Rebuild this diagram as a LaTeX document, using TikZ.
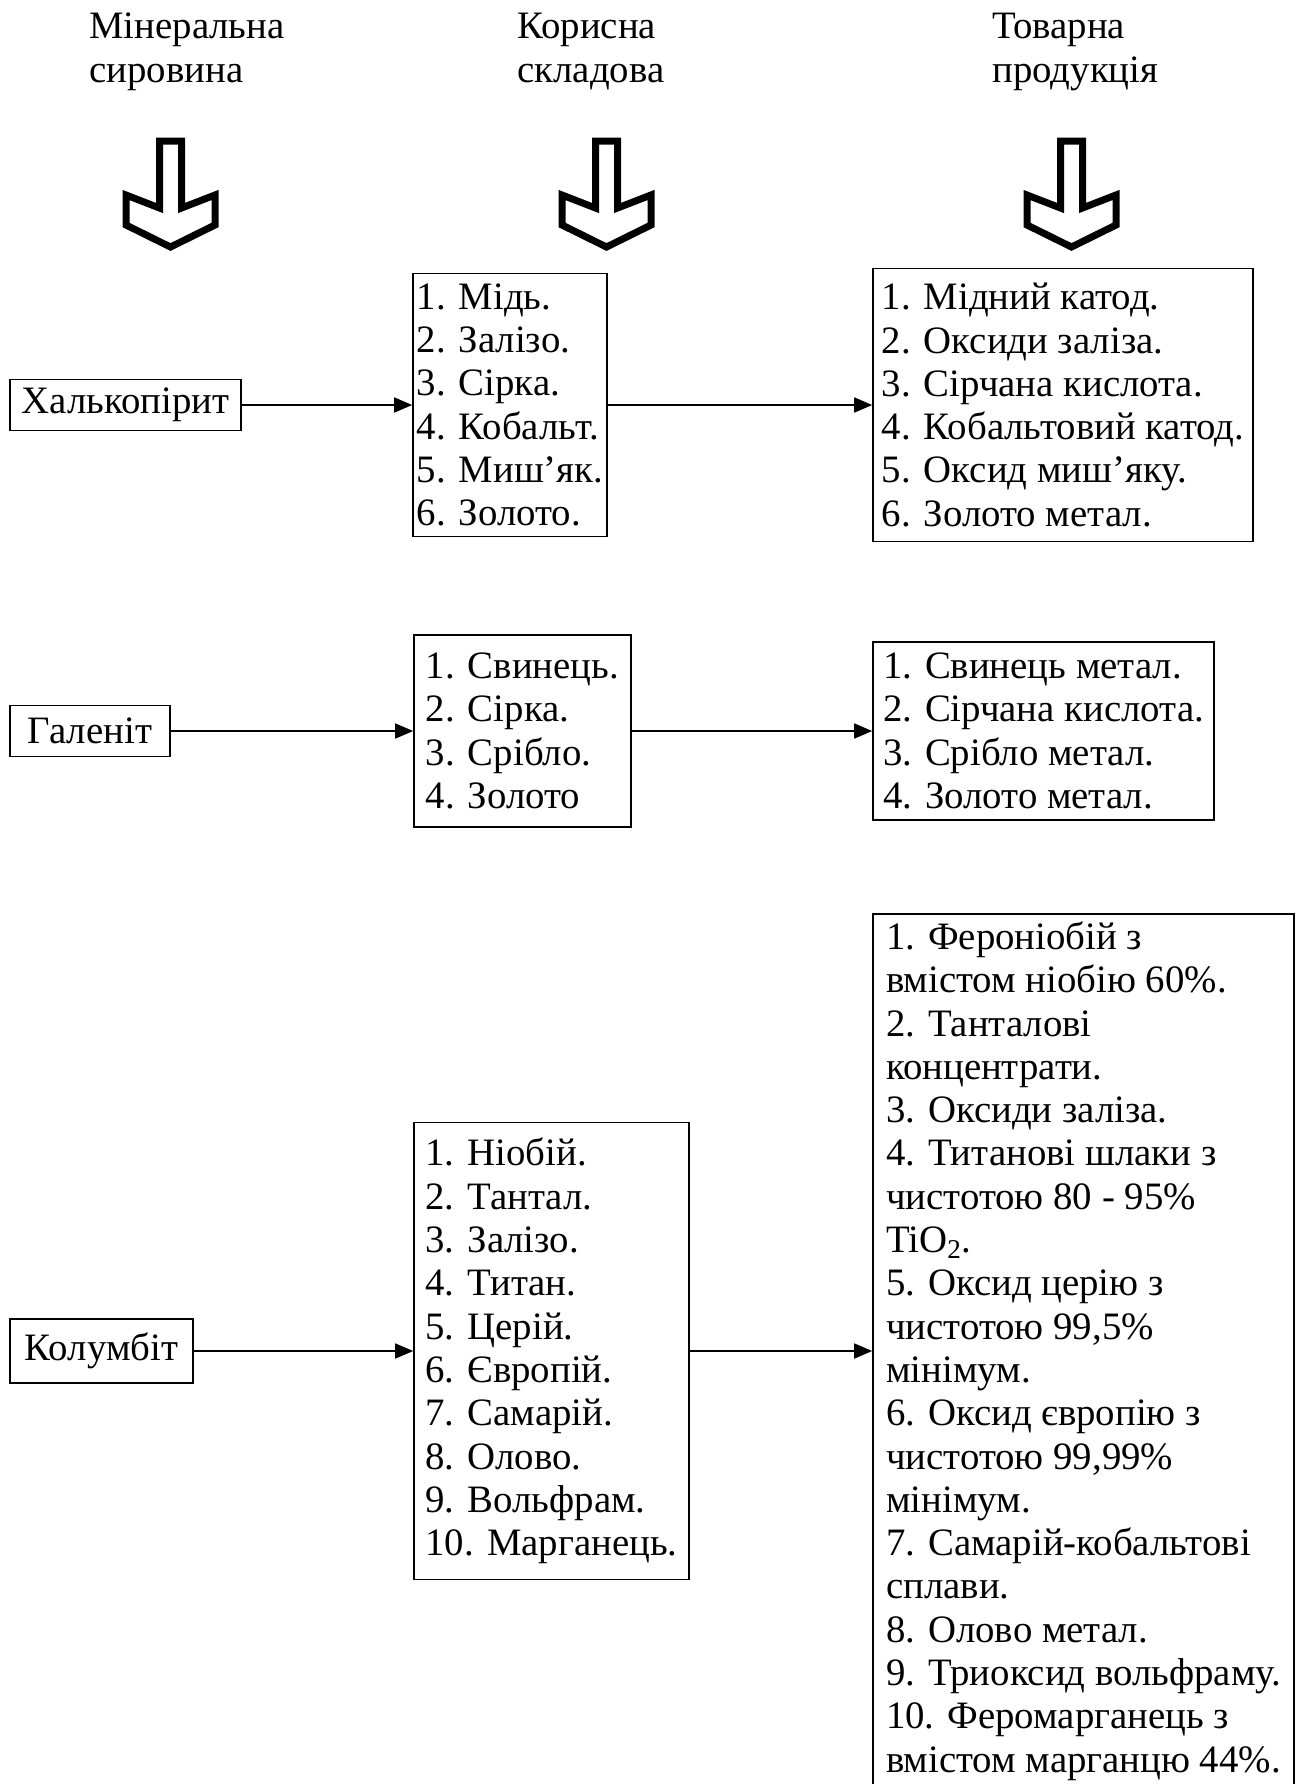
\documentclass[tikz,border=0pt]{standalone}
\usepackage{fontspec}
\setmainfont{Liberation Serif}
\usetikzlibrary{arrows.meta}
\newcommand\boxfont{\fontsize{19.4pt}{21.65pt}\selectfont}
\tikzstyle{head} = [anchor=base west, inner sep=0pt, align=left, font=\boxfont]
\tikzstyle{mineral} = [rectangle, draw=black, line width=0.8pt, inner sep=0pt, text centered, font=\boxfont]
\tikzstyle{list} = [rectangle, draw=black, line width=0.8pt, inner sep=0pt, align=left, font=\boxfont]
\tikzstyle{arrow} = [line width=0.8pt, -{Triangle[length=9pt, width=7.5pt]}]
\tikzset{hollowarrow/.pic={
	\draw [line width=3.5pt, line join=miter] (-11,0) -- (11,0) -- (11,67) -- (44.5,54) -- (44.5,84) -- (0,106) -- (-44.5,84) -- (-44.5,54) -- (-11,67) -- cycle;
}}

\begin{document}
\begin{tikzpicture}[x=0.5pt, y=-0.5pt]
	\useasboundingbox (0,0) rectangle (1298,1784);
	% column titles (base = last line)
	\node (hraw) [head] at (89,82) {Мінеральна\\сировина};
	\node (hpart) [head] at (517,82) {Корисна\\складова};
	\node (hprod) [head] at (992,82) {Товарна\\продукція};
	\pic at (170.5,141) {hollowarrow};
	\pic at (606.5,141) {hollowarrow};
	\pic at (1071.5,141) {hollowarrow};
	% chalcopyrite
	\node (chalco) [mineral, minimum width=115.5pt, minimum height=25.5pt] at (125.5,405) {Халькопірит};
	\node (chalcoparts) [list, minimum width=97pt, minimum height=131.5pt] at (510,405) {1. Мідь.\\2. Залізо.\\3. Сірка.\\4. Кобальт.\\5. Миш’як.\\6. Золото.};
	\node (chalcoprod) [list, minimum width=190pt, minimum height=136.5pt] at (1063,405) {1. Мідний катод.\\2. Оксиди заліза.\\3. Сірчана кислота.\\4. Кобальтовий катод.\\5. Оксид миш’яку.\\6. Золото метал.};
	\draw [arrow] (chalco) -- (chalcoparts);
	\draw [arrow] (chalcoparts) -- (chalcoprod);
	% galena
	\node (galena) [mineral, minimum width=80pt, minimum height=25.5pt] at (90,731) {Галеніт};
	\node (galenaparts) [list, minimum width=108.5pt, minimum height=96pt] at (522.5,731) {1. Свинець.\\2. Сірка.\\3. Срібло.\\4. Золото};
	\node (galenaprod) [list, minimum width=170.5pt, minimum height=89pt] at (1043.5,731) {1. Свинець метал.\\2. Сірчана кислота.\\3. Срібло метал.\\4. Золото метал.};
	\draw [arrow] (galena) -- (galenaparts);
	\draw [arrow] (galenaparts) -- (galenaprod);
	% columbite
	\node (columb) [mineral, minimum width=91.5pt, minimum height=32pt] at (101.5,1351) {Колумбіт};
	\node (columbparts) [list, minimum width=137.5pt, minimum height=228.5pt] at (551.5,1351) {1. Ніобій.\\2. Тантал.\\3. Залізо.\\4. Титан.\\5. Церій.\\6. Європій.\\7. Самарій.\\8. Олово.\\9. Вольфрам.\\10. Марганець.};
	\node (columbprod) [list, minimum width=210.5pt, minimum height=437pt] at (1083.5,1351) {1. Фероніобій з\\вмістом ніобію 60\%.\\2. Танталові\\концентрати.\\3. Оксиди заліза.\\4. Титанові шлаки з\\чистотою 80 - 95\%\\TiO\textsubscript{2}.\\5. Оксид церію з\\чистотою 99,5\%\\мінімум.\\6. Оксид європію з\\чистотою 99,99\%\\мінімум.\\7. Самарій-кобальтові\\сплави.\\8. Олово метал.\\9. Триоксид вольфраму.\\10. Феромарганець з\\вмістом марганцю 44\%.};
	\draw [arrow] (columb) -- (columbparts);
	\draw [arrow] (columbparts) -- (columbprod);
\end{tikzpicture}
\end{document}
